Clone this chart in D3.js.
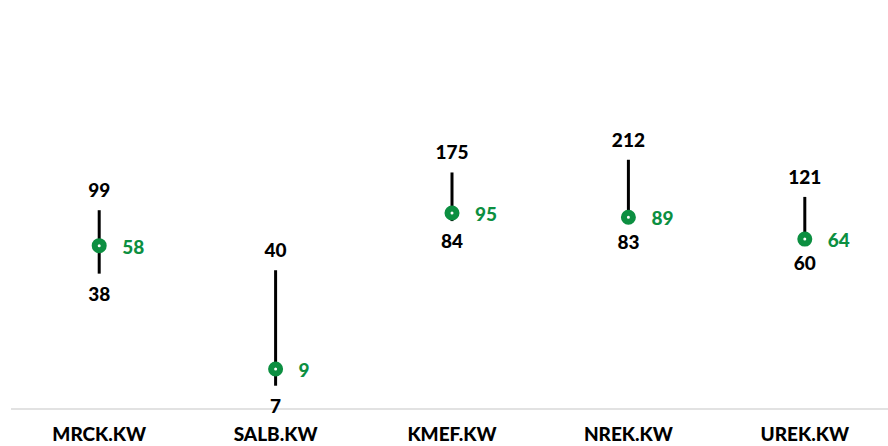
<!DOCTYPE html>
<html>
<head>
<meta charset="utf-8">
<script src="https://cdn.jsdelivr.net/npm/d3@7"></script>
<style>
  body { margin: 0; background: #fff; }
  text { font-family: Lato, "Open Sans", sans-serif; font-weight: 900; }
</style>
</head>
<body>
<svg width="888" height="446"></svg>
<script>
var tickers = ["MRCK.KW", "SALB.KW", "KMEF.KW", "NREK.KW", "UREK.KW"];
var highs   = [99, 40, 175, 212, 121];
var lows    = [38, 7, 84, 83, 60];
var current = [58, 9, 95, 89, 64];

var svg = d3.select("svg");
var green = "#0c8f41";

var x = d3.scaleBand().domain(tickers).range([11, 893]);
var y = d3.scaleLog().domain([5, 1000]).range([408, 57]);

var rows = tickers.map(function(t, i) {
  return { name: t, hi: highs[i], lo: lows[i], cur: current[i] };
});
function cx(d) { return x(d.name) + x.bandwidth() / 2; }

// baseline
svg.append("line")
   .attr("x1", 11).attr("x2", 888)
   .attr("y1", y(5) + 1).attr("y2", y(5) + 1)
   .attr("stroke", "#d9d9d9").attr("stroke-width", 1.5);

// category labels
var xAxis = svg.append("g")
   .attr("transform", "translate(0," + (y(5) + 1) + ")")
   .call(d3.axisBottom(x).tickSize(0).tickPadding(19));
xAxis.select(".domain").remove();
xAxis.selectAll("text")
   .attr("font-size", 19).attr("fill", "#000")
   .attr("font-family", "Lato, 'Open Sans', sans-serif")
   .attr("font-weight", 900);

// high-low lines
svg.selectAll("line.hl").data(rows).enter()
   .append("line").attr("class", "hl")
   .attr("x1", cx).attr("x2", cx)
   .attr("y1", function(d) { return y(d.hi); })
   .attr("y2", function(d) { return y(d.lo); })
   .attr("stroke", "#000").attr("stroke-width", 3);

// markers
svg.selectAll("circle.cur").data(rows).enter()
   .append("circle").attr("class", "cur")
   .attr("cx", cx)
   .attr("cy", function(d) { return y(d.cur); })
   .attr("r", 4.5)
   .attr("fill", "#fff")
   .attr("stroke", green).attr("stroke-width", 6);

// labels
svg.selectAll("text.hi").data(rows).enter()
   .append("text").attr("class", "hi")
   .attr("x", cx).attr("y", function(d) { return y(d.hi) - 13; })
   .attr("text-anchor", "middle").attr("font-size", 19)
   .text(function(d) { return d.hi; });

svg.selectAll("text.lo").data(rows).enter()
   .append("text").attr("class", "lo")
   .attr("x", cx).attr("y", function(d) { return y(d.lo) + 27; })
   .attr("text-anchor", "middle").attr("font-size", 19)
   .text(function(d) { return d.lo; });

svg.selectAll("text.curlab").data(rows).enter()
   .append("text").attr("class", "curlab")
   .attr("x", function(d) { return cx(d) + 23; })
   .attr("y", function(d) { return y(d.cur) + 8; })
   .attr("font-size", 19).attr("fill", green)
   .text(function(d) { return d.cur; });
</script>
</body>
</html>
